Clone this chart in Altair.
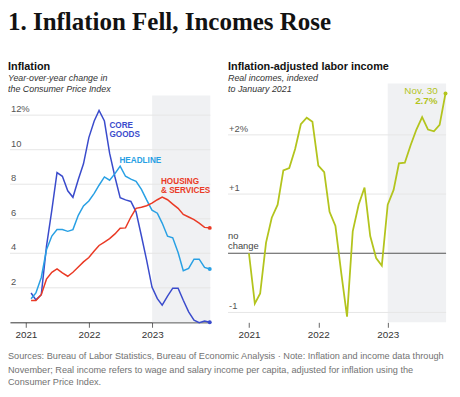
import altair as alt
import pandas as pd

# ---------------- data ----------------
CORE_GOODS = [1.7, 1.3, 1.6, 4.4, 6.5, 8.67, 8.46, 7.62, 7.24, 8.27, 9.18, 10.7,
              11.66, 12.27, 11.66, 9.8, 8.42, 7.22, 7.09, 7.0, 6.4, 5.0, 3.6, 2.04,
              1.37, 0.99, 1.52, 1.98, 1.98, 1.28, 0.61, 0.13, -0.02, 0.07, 0.0]
HEADLINE = [1.37, 1.7, 2.6, 4.2, 5.0, 5.37, 5.37, 5.27, 5.37, 6.2, 6.74, 7.03,
            7.47, 7.94, 8.42, 8.23, 8.61, 9.05, 8.46, 8.29, 8.17, 7.7, 7.09, 6.5,
            6.32, 5.75, 4.99, 4.9, 4.04, 2.99, 3.12, 3.66, 3.66, 3.18, 3.09]
HOUSING_SERVICES = [1.27, 1.27, 1.6, 2.5, 2.9, 3.09, 2.86, 2.67, 2.9, 3.2, 3.5, 3.75,
                    4.13, 4.45, 4.65, 4.85, 5.12, 5.45, 5.47, 6.1, 6.6, 6.67, 6.75, 6.9,
                    7.1, 7.25, 7.1, 6.85, 6.6, 6.25, 6.1, 5.95, 5.75, 5.5, 5.47]
REAL_INCOME = [0.0, -0.85, -0.68, 0.18, 0.6, 0.82, 1.4, 1.44, 1.76, 2.18, 2.29, 2.22,
               1.48, 1.37, 0.7, 0.46, -0.32, -1.07, 0.37, 0.82, 1.11, 0.29, -0.08, -0.21,
               0.82, 1.07, 1.52, 1.53, 1.82, 2.09, 2.3, 2.09, 2.06, 2.17, 2.7]

SERIES = ["Core goods", "Headline", "Housing & services"]
SERIES_COLORS = ["#3a4bcc", "#28a0e4", "#ea3a25"]
LIME = "#b3c41d"

LEFT_GRID = [2, 4, 6, 8, 10, 12]
LEFT_GRID_LABELS = ["2", "4", "6", "8", "10", "12%"]
RIGHT_GRID = [2, 1, -1]
RIGHT_GRID_LABELS = ["+2%", "+1", "-1"]
YEAR_TICKS = [2021, 2022, 2023]

SERIES_LABEL_TEXT = ["CORE", "GOODS", "HEADLINE", "HOUSING", "& SERVICES"]
SERIES_LABEL_SERIES = ["Core goods", "Core goods", "Headline",
                       "Housing & services", "Housing & services"]

SANS = "Liberation Sans"
SERIF = "Liberation Serif"

# ---------------- dates / scales ----------------
n = len(CORE_GOODS)
month_starts = pd.date_range("2021-01-01", periods=n, freq="MS")
month_ends = month_starts + pd.offsets.MonthEnd(0)

L_START, L_END = pd.Timestamp("2020-10-01"), pd.Timestamp("2023-12-03")
R_START, R_END = pd.Timestamp("2020-09-13"), pd.Timestamp("2023-11-04")
SHADE_START = pd.Timestamp("2023-01-01")


def dt(ts):
    return alt.DateTime(year=ts.year, month=ts.month, date=ts.day)


LX = alt.Scale(domain=[dt(L_START), dt(L_END)], range=[2, 205], nice=False)
LY = alt.Scale(domain=[0, 13.83], range=[316, 74], nice=False, zero=False)
RX = alt.Scale(domain=[dt(R_START), dt(R_END)], range=[223, 444], nice=False)
RY = alt.Scale(domain=[-1.1667, 2.8667], range=[316, 74], nice=False, zero=False)


def year_axis(domain_line):
    return alt.Axis(values=[alt.DateTime(year=y, month=1, date=1) for y in YEAR_TICKS],
                    format="%Y", orient="bottom", title=None, grid=False,
                    domain=domain_line, domainColor="#333333", domainWidth=1,
                    ticks=True, tickSize=5, tickColor="#666666", tickWidth=1,
                    labelFont=SANS, labelFontSize=10, labelColor="#333333",
                    labelPadding=2, labelFlush=False, labelOverlap=False)


AXL = year_axis(True)
AXR = year_axis(False)


def lx(f):
    return alt.X(f, scale=LX, axis=AXL)


def ly(f):
    return alt.Y(f, scale=LY, axis=None)


def rx(f):
    return alt.X(f, scale=RX, axis=AXR)


def ry(f):
    return alt.Y(f, scale=RY, axis=None)


series_color = alt.Color("series:N", scale=alt.Scale(domain=SERIES, range=SERIES_COLORS),
                         legend=None)

# ---------------- left panel ----------------
left_df = pd.DataFrame({
    "date": list(month_ends) * 3,
    "value": CORE_GOODS + HEADLINE + HOUSING_SERVICES,
    "series": [s for s in SERIES for _ in range(n)],
})
left_last = pd.DataFrame({
    "date": [month_ends[-1]] * 3,
    "value": [CORE_GOODS[-1], HEADLINE[-1], HOUSING_SERVICES[-1]],
    "series": SERIES,
})
left_grid_df = pd.DataFrame({"v": LEFT_GRID, "lab": LEFT_GRID_LABELS,
                             "x0": [L_START] * len(LEFT_GRID), "x1": [L_END] * len(LEFT_GRID)})
left_shade_df = pd.DataFrame({"x0": [SHADE_START], "x1": [L_END], "y0": [0.0], "y1": [13.14]})
label_df = pd.DataFrame({
    "text": SERIES_LABEL_TEXT,
    "series": SERIES_LABEL_SERIES,
    "date": pd.to_datetime(["2022-04-29", "2022-04-29", "2022-06-26", "2023-02-21", "2023-02-21"]),
    "value": [11.37, 10.86, 9.37, 8.11, 7.6],
})

left_shade = alt.Chart(left_shade_df).mark_rect(color="#f0f1f3").encode(
    x=lx("x0:T"), x2="x1:T", y=ly("y0:Q"), y2="y1:Q")
left_grid_rules = alt.Chart(left_grid_df).mark_rule(color="#e6e6e6", strokeWidth=1).encode(
    x=lx("x0:T"), x2="x1:T", y=ly("v:Q"))
left_grid_text = alt.Chart(left_grid_df).mark_text(
    align="left", baseline="bottom", dx=1, dy=-1, font=SANS, fontSize=9.5, color="#555555"
).encode(x=lx("x0:T"), y=ly("v:Q"), text="lab:N")
left_lines = alt.Chart(left_df).mark_line(strokeWidth=1.5).encode(
    x=lx("date:T"), y=ly("value:Q"), color=series_color)
left_dots = alt.Chart(left_last).mark_circle(size=16, opacity=1).encode(
    x=lx("date:T"), y=ly("value:Q"), color=series_color)
left_labels = alt.Chart(label_df).mark_text(
    align="left", baseline="middle", font=SANS, fontSize=8.3, fontWeight="bold"
).encode(x=lx("date:T"), y=ly("value:Q"), text="text:N", color=series_color)

left = alt.layer(left_shade, left_grid_rules, left_grid_text, left_lines, left_dots, left_labels)

# ---------------- right panel ----------------
right_df = pd.DataFrame({"date": month_starts, "value": REAL_INCOME})
right_last = right_df.iloc[[-1]].assign(l1="Nov. 30", l2=f"{REAL_INCOME[-1]:.1f}%")
right_grid_df = pd.DataFrame({"v": RIGHT_GRID, "lab": RIGHT_GRID_LABELS,
                              "x0": [R_START] * len(RIGHT_GRID), "x1": [R_END] * len(RIGHT_GRID)})
zero_df = pd.DataFrame({"v": [0.0], "x0": [R_START], "x1": [R_END], "l1": ["no"], "l2": ["change"]})
right_shade_df = pd.DataFrame({"x0": [SHADE_START], "x1": [R_END], "y0": [-1.1667], "y1": [2.8667]})

right_shade = alt.Chart(right_shade_df).mark_rect(color="#f0f1f3").encode(
    x=rx("x0:T"), x2="x1:T", y=ry("y0:Q"), y2="y1:Q")
right_grid_rules = alt.Chart(right_grid_df).mark_rule(color="#e6e6e6", strokeWidth=1).encode(
    x=rx("x0:T"), x2="x1:T", y=ry("v:Q"))
right_grid_text = alt.Chart(right_grid_df).mark_text(
    align="left", baseline="bottom", dx=1, dy=-1, font=SANS, fontSize=9.5, color="#555555"
).encode(x=rx("x0:T"), y=ry("v:Q"), text="lab:N")
zero_rule = alt.Chart(zero_df).mark_rule(color="#555555", strokeWidth=1.2).encode(
    x=rx("x0:T"), x2="x1:T", y=ry("v:Q"))
zero_text1 = alt.Chart(zero_df).mark_text(
    align="left", baseline="bottom", dx=0, dy=-12, font=SANS, fontSize=9.5, color="#444444"
).encode(x=rx("x0:T"), y=ry("v:Q"), text="l1:N")
zero_text2 = alt.Chart(zero_df).mark_text(
    align="left", baseline="bottom", dx=0, dy=-2, font=SANS, fontSize=9.5, color="#444444"
).encode(x=rx("x0:T"), y=ry("v:Q"), text="l2:N")
right_line = alt.Chart(right_df).mark_line(strokeWidth=1.8, color=LIME).encode(
    x=rx("date:T"), y=ry("value:Q"))
right_dot = alt.Chart(right_last).mark_circle(size=16, opacity=1, color=LIME).encode(
    x=rx("date:T"), y=ry("value:Q"))
right_lab1 = alt.Chart(right_last).mark_text(
    align="right", baseline="middle", dx=-8, dy=-2, font=SANS, fontSize=10, color=LIME
).encode(x=rx("date:T"), y=ry("value:Q"), text="l1:N")
right_lab2 = alt.Chart(right_last).mark_text(
    align="right", baseline="middle", dx=-8, dy=8, font=SANS, fontSize=10, fontWeight="bold",
    color=LIME
).encode(x=rx("date:T"), y=ry("value:Q"), text="l2:N")

right = alt.layer(right_shade, right_grid_rules, right_grid_text, zero_rule, zero_text1,
                  zero_text2, right_line, right_dot, right_lab1, right_lab2)


# ---------------- titles and notes ----------------
def txt(text, x, y, size, weight="normal", style="normal", color="#121212", font=SANS):
    return alt.Chart(pd.DataFrame({"t": [text]})).mark_text(
        align="left", baseline="alphabetic", font=font, fontSize=size,
        fontWeight=weight, fontStyle=style, color=color
    ).encode(x=alt.value(x), y=alt.value(y), text="t:N")


texts = [
    txt("1. Inflation Fell, Incomes Rose", 0, 20, 25.3, weight="bold", font=SERIF),
    txt("Inflation", 0, 60, 11, weight="bold"),
    txt("Year-over-year change in", 0, 71, 9, style="italic", color="#333333"),
    txt("the Consumer Price Index", 0, 83, 9, style="italic", color="#333333"),
    txt("Inflation-adjusted labor income", 223, 60, 11, weight="bold"),
    txt("Real incomes, indexed", 223, 71, 9, style="italic", color="#333333"),
    txt("to January 2021", 223, 83, 9, style="italic", color="#333333"),
    txt("Sources: Bureau of Labor Statistics, Bureau of Economic Analysis  \u00b7  Note: Inflation and income data through",
        0, 353, 9.3, color="#727272"),
    txt("November; Real income refers to wage and salary income per capita, adjusted for inflation using the",
        0, 367, 9.3, color="#727272"),
    txt("Consumer Price Index.", 0, 380, 9.3, color="#727272"),
]

chart = alt.layer(left, right, *texts).resolve_scale(
    x="independent", y="independent"
).properties(
    width=444, height=316,
    autosize=alt.AutoSizeParams(type="none"),
    padding={"left": 0, "top": 0, "right": 6, "bottom": 65},
).configure_view(stroke=None)

chart.save("out.html", embed_options={"renderer": "svg", "actions": False})
